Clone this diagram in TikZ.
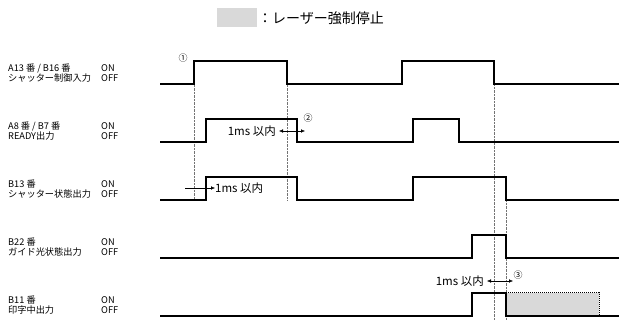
\documentclass[tikz,border=0pt]{standalone}
\usepackage{fontspec}
\setmainfont{Noto Sans CJK JP}
\usetikzlibrary{arrows.meta}
\tikzset{every node/.append style={font=\fontsize{9.2}{10.5}\selectfont, inner sep=0pt}}
\tikzset{
  sig/.style={line width=1.2pt, line join=miter},
  guide/.style={densely dotted, black!55, line width=0.4pt},
  lbl/.style={anchor=west, align=left},
  num/.style={font=\fontsize{9}{9}\selectfont},
  delay/.style={font=\fontsize{11.5}{11.5}\selectfont},
}

\begin{document}
\begin{tikzpicture}[x=1pt, y=-1pt, >={Latex[length=4pt,width=3.5pt]}]
    \useasboundingbox (0,0) rectangle (619,320);
    % legend
    \fill[black!15] (217,8) rectangle (257,27);
    \node[lbl, font=\fontsize{14}{16}\selectfont] (legend) at (258,18) {：レーザー強制停止};

    % signal names and levels
    \node[lbl] (n1) at (8,73) {A13 番 / B16 番\\シャッター制御入力};
    \node[lbl] (n2) at (8,131) {A8 番 / B7 番\\READY出力};
    \node[lbl] (n3) at (8,189) {B13 番\\シャッター状態出力};
    \node[lbl] (n4) at (8,247) {B22 番\\ガイド光状態出力};
    \node[lbl] (n5) at (8,305) {B11 番\\印字中出力};
    \foreach \y in {73,131,189,247,305}
        \node[lbl] at (101,\y) {ON\\OFF};

    % guide lines
    \draw[guide] (194,61) -- (194,200);
    \draw[guide] (287,61) -- (287,200);
    \draw[guide] (494,84) -- (494,320);
    \draw[guide] (506,200) -- (506,320);

    % laser stop area
    \fill[black!15] (506,293) rectangle (599,316);
    \draw[densely dotted, line width=1pt] (506,293) -- (599,293) -- (599,316);

    % signals
    \draw[sig] (160,84) -- (194,84) -- (194,61) -- (287,61) -- (287,84) -- (402,84) -- (402,61) -- (494,61) -- (494,84) -- (619,84);
    \draw[sig] (160,142) -- (206,142) -- (206,119) -- (297,119) -- (297,142) -- (413,142) -- (413,119) -- (459,119) -- (459,142) -- (619,142);
    \draw[sig] (160,200) -- (206,200) -- (206,177) -- (297,177) -- (297,200) -- (413,200) -- (413,177) -- (506,177) -- (506,200) -- (619,200);
    \draw[sig] (160,258) -- (472,258) -- (472,235) -- (506,235) -- (506,258) -- (619,258);
    \draw[sig] (160,316) -- (472,316) -- (472,293) -- (506,293) -- (506,316) -- (619,316);

    % delays
    \node[num] (c1) at (183,58) {①};
    \node[num] (c2) at (308,118) {②};
    \node[num] (c3) at (518,275) {③};

    \node[delay, anchor=east] (t2) at (276,131) {1ms 以内};
    \coordinate (a2) at (279,131);
    \coordinate (b2) at (305,131);
    \draw[<->] (a2) -- (b2);

    \node[delay, anchor=west] (t3) at (215,188) {1ms 以内};
    \coordinate (a3) at (185,188);
    \draw[->] (a3) -- (t3.west);

    \node[delay, anchor=east] (t5) at (484,281) {1ms 以内};
    \coordinate (a5) at (487,281);
    \coordinate (b5) at (513,281);
    \draw[<->] (a5) -- (b5);
\end{tikzpicture}
\end{document}
